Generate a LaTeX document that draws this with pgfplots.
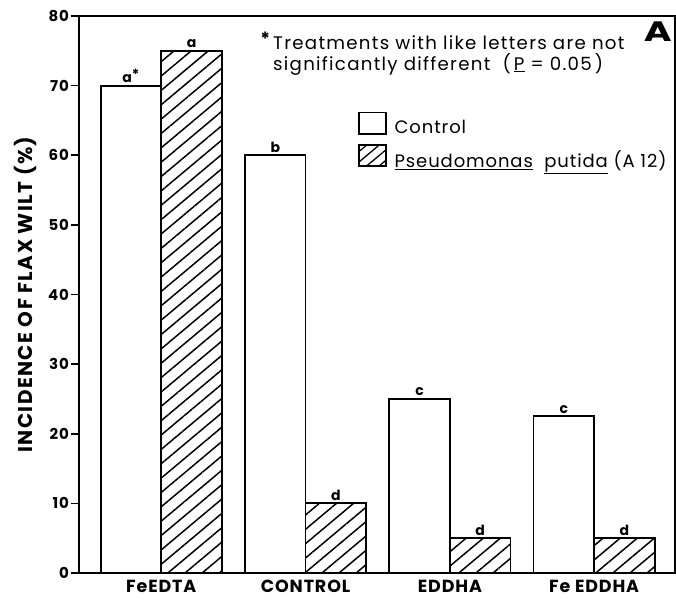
\documentclass[border=0pt]{standalone}
\usepackage{pgfplots}
\pgfplotsset{compat=1.18}
\usepackage{fontspec}
\setmainfont{Poppins}[LetterSpace=5]
\newfontfamily\wide{Poppins}[LetterSpace=7]
\usetikzlibrary{patterns.meta}
\begin{document}
\begin{tikzpicture}
\begin{axis}[
  scale only axis, width=596pt, height=557pt,
  ybar=0pt, bar width=0.42,
  xmin=-0.57, xmax=3.56, ymin=0, ymax=80,
  xtick={0,1,2,3}, xticklabels={FeEDTA,CONTROL,EDDHA,Fe EDDHA},
  x tick style={draw=none},
  ytick={0,10,...,80}, ytick pos=left,
  y tick style={line width=1.5pt, black},
  tick align=outside, major tick length=8pt,
  axis line style={line width=1.8pt},
  /pgf/number format/assume math mode=true,
  ylabel={INCIDENCE OF FLAX WILT (\%)},
  every axis y label/.style={at={(rel axis cs:0,0.5)}, rotate=90, anchor=center, yshift=54pt,
    font=\wide\fontsize{20}{22}\selectfont\bfseries},
  yticklabel style={font=\fontsize{15}{18}\selectfont\bfseries, inner xsep=2pt},
  xticklabel style={font=\fontsize{17.5}{20}\selectfont\bfseries, anchor=base, yshift=-11.5pt,
    inner sep=0pt, text depth=0pt},
  legend style={draw=none, fill=none, at={(0.468,0.828)}, anchor=north west,
    font=\fontsize{18}{20}\selectfont, row sep=7pt, inner sep=0pt},
  legend cell align=left,
  nodes near coords={\pgfplotspointmeta},
  nodes near coords style={font=\fontsize{14}{16}\selectfont\bfseries, inner sep=2pt},
  point meta=explicit symbolic,
]
\addplot[fill=white, draw=black, line width=1.8pt,
  legend image code/.code={\draw[fill=white,line width=1.5pt] (0pt,-6pt) rectangle (27pt,15pt);}]
  coordinates {(0,70) [a\raisebox{3pt}{*}] (1,60) [b] (2,25) [c] (3,22.5) [c]};
\addlegendentry{\hspace{6pt}Control}
\addplot[draw=black, line width=1.8pt,
  pattern={Lines[angle=40,distance=11pt,line width=1.5pt]},
  legend image code/.code={\draw[line width=1.5pt,pattern={Lines[angle=40,distance=8pt,line width=1.3pt]}] (0pt,-6pt) rectangle (27pt,15pt);}]
  coordinates {(0,75) [a] (1,10) [d] (2,5) [d] (3,5) [d]};
\addlegendentry{\hspace{6pt}\underline{Pseudomonas}\ \ \underline{putida} (A 12)}
\node[anchor=north east, font=\fontsize{28}{30}\selectfont\bfseries, inner sep=0pt] at (rel axis cs:0.995,0.989) {\scalebox{1.35}[1]{A}};
\node[anchor=north west, align=left, font=\wide\fontsize{18.2}{21}\selectfont, inner sep=0pt] at (rel axis cs:0.3255,0.972)
  {\llap{\raisebox{4pt}{\bfseries *}\hspace{3pt}}Treatments with like letters are not\\significantly different \ (\,\underline{P} = 0.05\,)};
\end{axis}
\path ([shift={(-79pt,-26pt)}]current axis.south west) rectangle ([shift={(1pt,16pt)}]current axis.north east);
\end{tikzpicture}
\end{document}
